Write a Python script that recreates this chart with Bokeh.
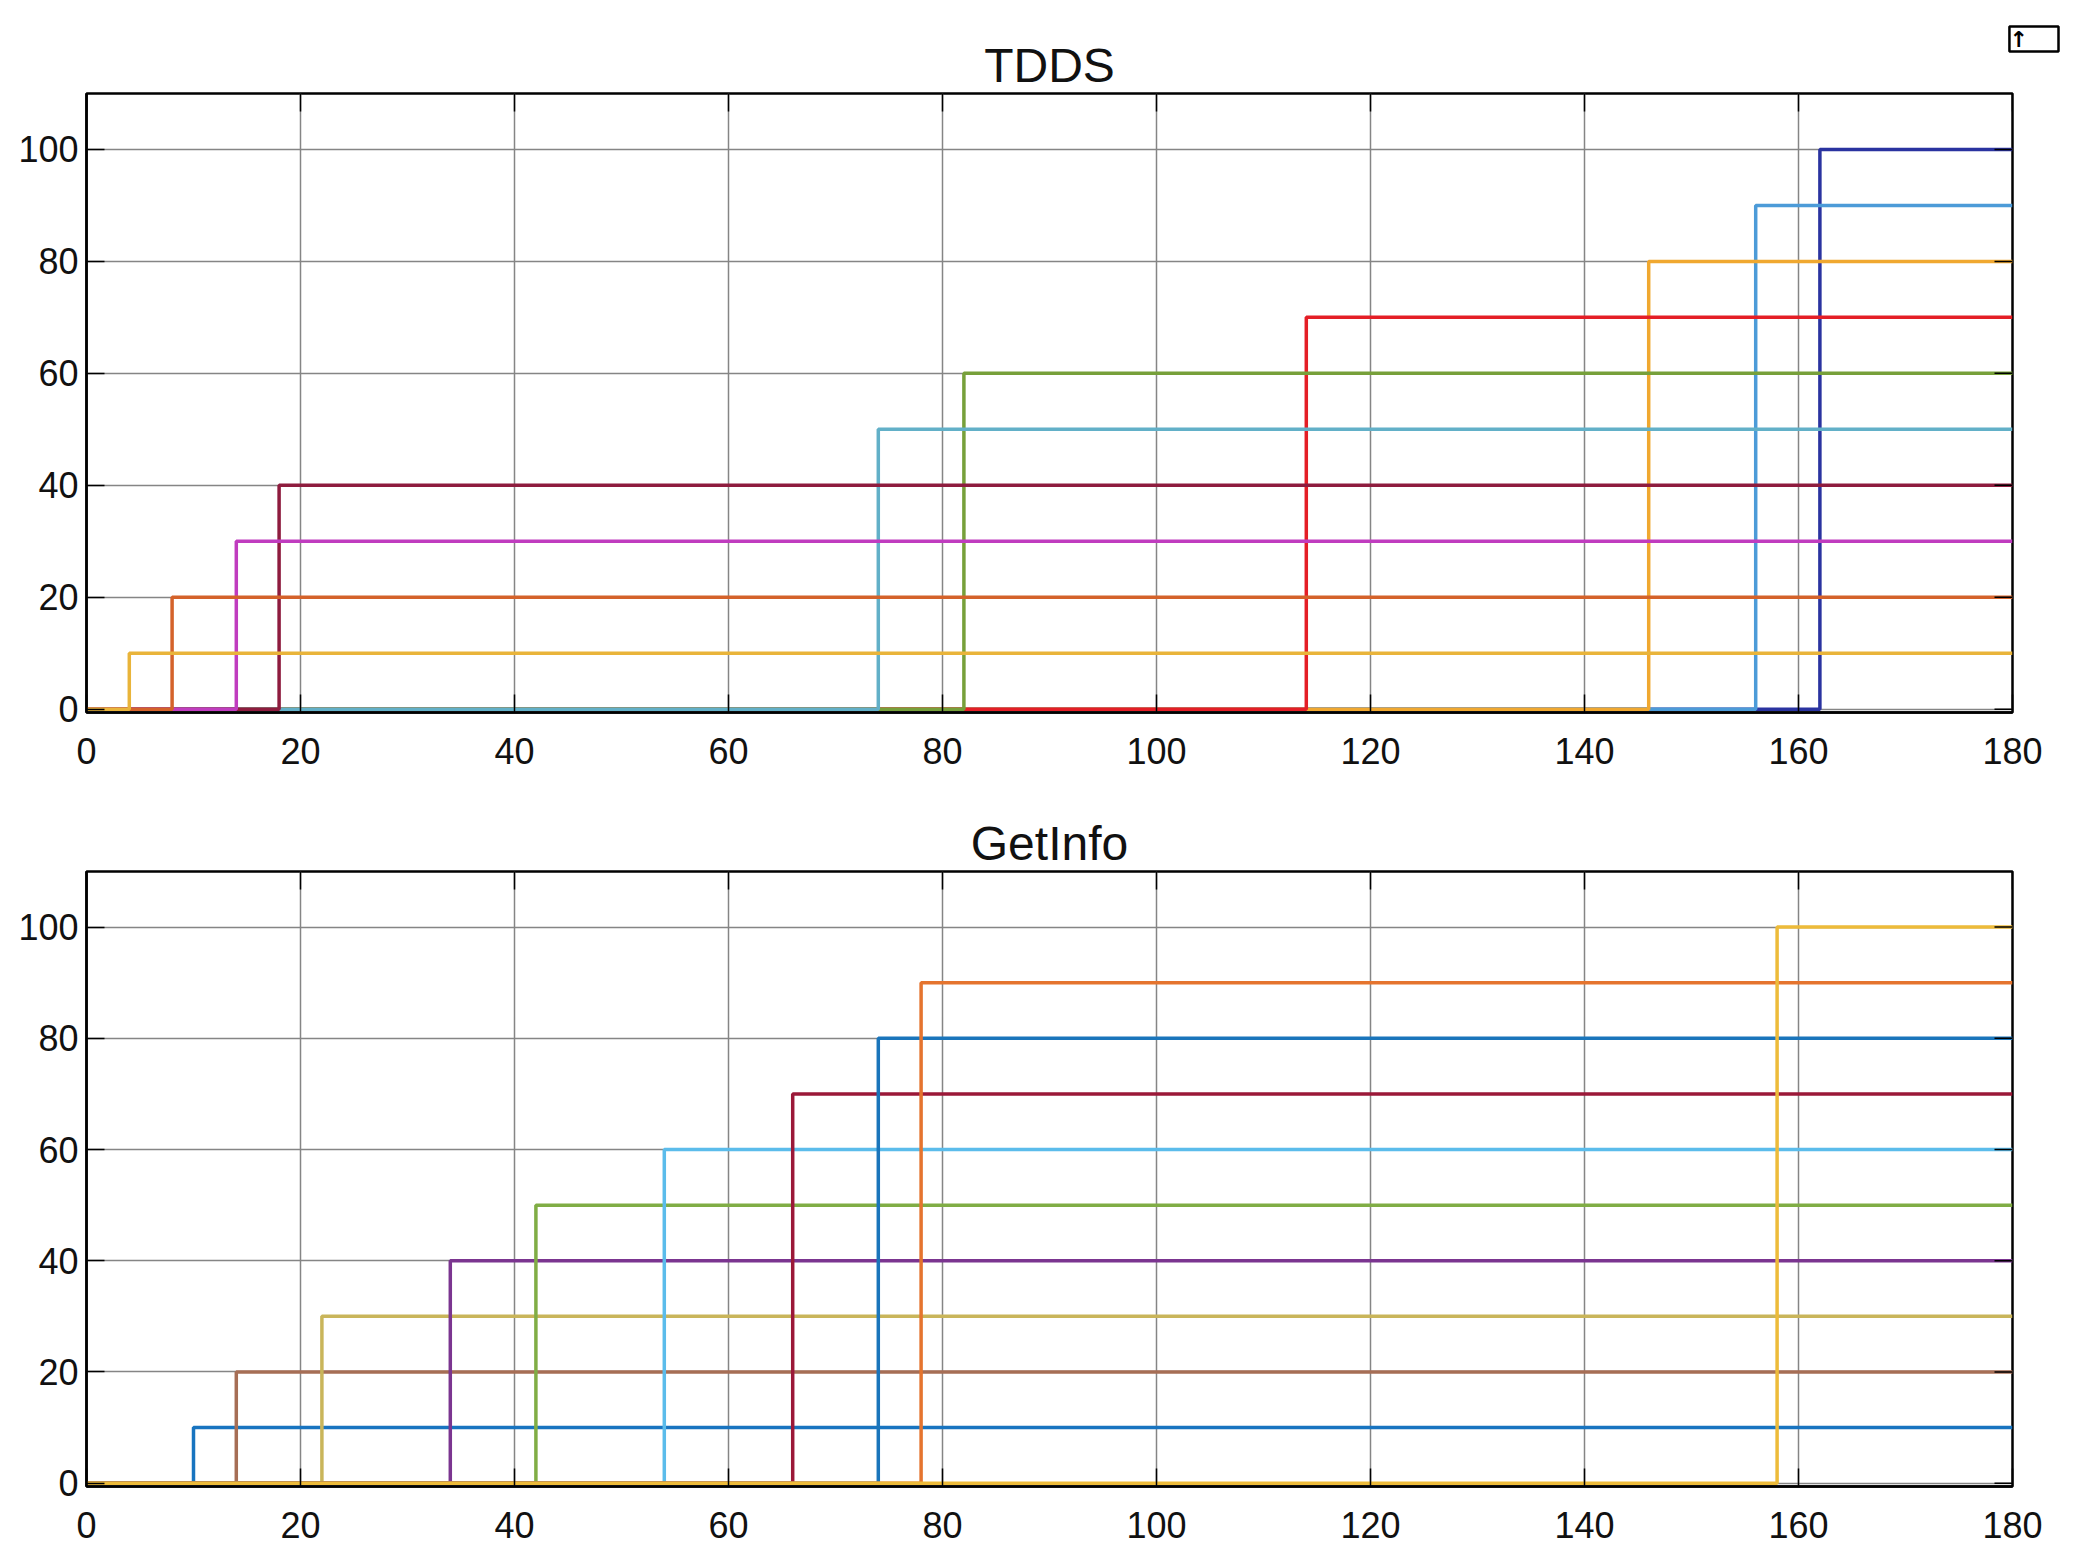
import math
from bokeh.plotting import figure
from bokeh.layouts import column
from bokeh.models import FixedTicker, LinearAxis, Range1d, Title
from bokeh.embed import file_html
from bokeh.resources import INLINE

# ---- data ----
x_end = 180
y_max = 110
levels = [10, 20, 30, 40, 50, 60, 70, 80, 90, 100]

tdds_times = [4, 8, 14, 18, 74, 82, 114, 146, 156, 162]
tdds_colors = ["#E9B43A", "#D4622A", "#C03CBF", "#8E1C3E", "#62B0C8",
               "#77A03A", "#E41E26", "#F0A830", "#4C9BD8", "#2A33A0"]

getinfo_times = [10, 14, 22, 34, 42, 54, 66, 74, 78, 158]
getinfo_colors = ["#1874C0", "#A66E55", "#C9B55A", "#7B3590", "#80AD45",
                  "#5BBCEB", "#9B1838", "#1A75BB", "#E5742E", "#EDBB3A"]

x_ticks = [0, 20, 40, 60, 80, 100, 120, 140, 160, 180]
y_ticks = [0, 20, 40, 60, 80, 100]

FONT = "Liberation Sans"
W = 2061


def make_fig(title, times, colors, height, top, below, reverse, icon=False):
    p = figure(width=W, height=height, output_backend="svg", toolbar_location=None,
               x_range=Range1d(0, x_end), y_range=Range1d(-0.6, y_max),
               min_border_left=86, min_border_right=49, min_border_top=top,
               min_border_bottom=below, x_axis_location=None, y_axis_location=None)
    main_title = Title(text=title, align="center", text_font=FONT, text_font_size="48px",
                       text_font_style="normal", text_color="#111111", standoff=4)
    if icon:
        # small toolbar-style icon, outside the top-right corner of the box
        p.title = Title(text="  ↑  ", align="right", offset=-46, text_font="DejaVu Sans",
                        text_font_size="22px", text_font_style="bold", text_color="black",
                        border_line_color="black", border_line_width=2.5,
                        background_fill_color="white", standoff=-34)
        p.add_layout(main_title, "above")
    else:
        p.title = main_title

    ax = LinearAxis(ticker=FixedTicker(ticks=x_ticks))
    ax.major_tick_in = 18
    ax.major_tick_out = 0
    ax.minor_tick_line_color = None
    ax.axis_line_color = "black"
    ax.axis_line_width = 2.5
    ax.major_tick_line_color = "black"
    ax.major_tick_line_width = 1.5
    ax.major_label_text_font = FONT
    ax.major_label_text_color = "#111111"
    ax.major_label_text_font_size = "36px"
    ax.major_label_standoff = 25
    p.add_layout(ax, "below")

    ay = LinearAxis(ticker=FixedTicker(ticks=y_ticks))
    ay.major_tick_in = 18
    ay.major_tick_out = 0
    ay.minor_tick_line_color = None
    ay.axis_line_color = "black"
    ay.axis_line_width = 2.5
    ay.major_tick_line_color = "black"
    ay.major_tick_line_width = 1.5
    ay.major_label_text_font = FONT
    ay.major_label_text_color = "#111111"
    ay.major_label_text_font_size = "36px"
    ay.major_label_standoff = 8
    p.add_layout(ay, "left")

    p.xgrid.ticker = FixedTicker(ticks=x_ticks)
    p.ygrid.ticker = FixedTicker(ticks=y_ticks)
    p.xgrid.grid_line_color = "#858585"
    p.ygrid.grid_line_color = "#858585"
    p.xgrid.grid_line_width = 1.5
    p.ygrid.grid_line_width = 1.5
    p.outline_line_color = "black"
    p.outline_line_width = 2.5
    p.background_fill_color = "white"
    p.border_fill_color = "white"

    order = list(range(len(levels)))
    if reverse:
        order = order[::-1]
    for i in order:
        p.step(x=[0, times[i], x_end], y=[0, levels[i], levels[i]], mode="after",
               line_color=colors[i], line_width=3.5)

    # mirrored inner ticks on the top and right edges of the box
    p.ray(x=x_ticks, y=y_max, length=18, length_units="screen", angle=-math.pi / 2,
          line_color="black", line_width=1.5)
    p.ray(x=x_end, y=y_ticks, length=18, length_units="screen", angle=math.pi,
          line_color="black", line_width=1.5)
    return p


p1 = make_fig("TDDS", tdds_times, tdds_colors, 780, 93, 68, True, icon=True)
p2 = make_fig("GetInfo", getinfo_times, getinfo_colors, 776, 91, 70, False)

layout = column(p1, p2, spacing=0)
open("out.html", "w").write(file_html(layout, INLINE))
